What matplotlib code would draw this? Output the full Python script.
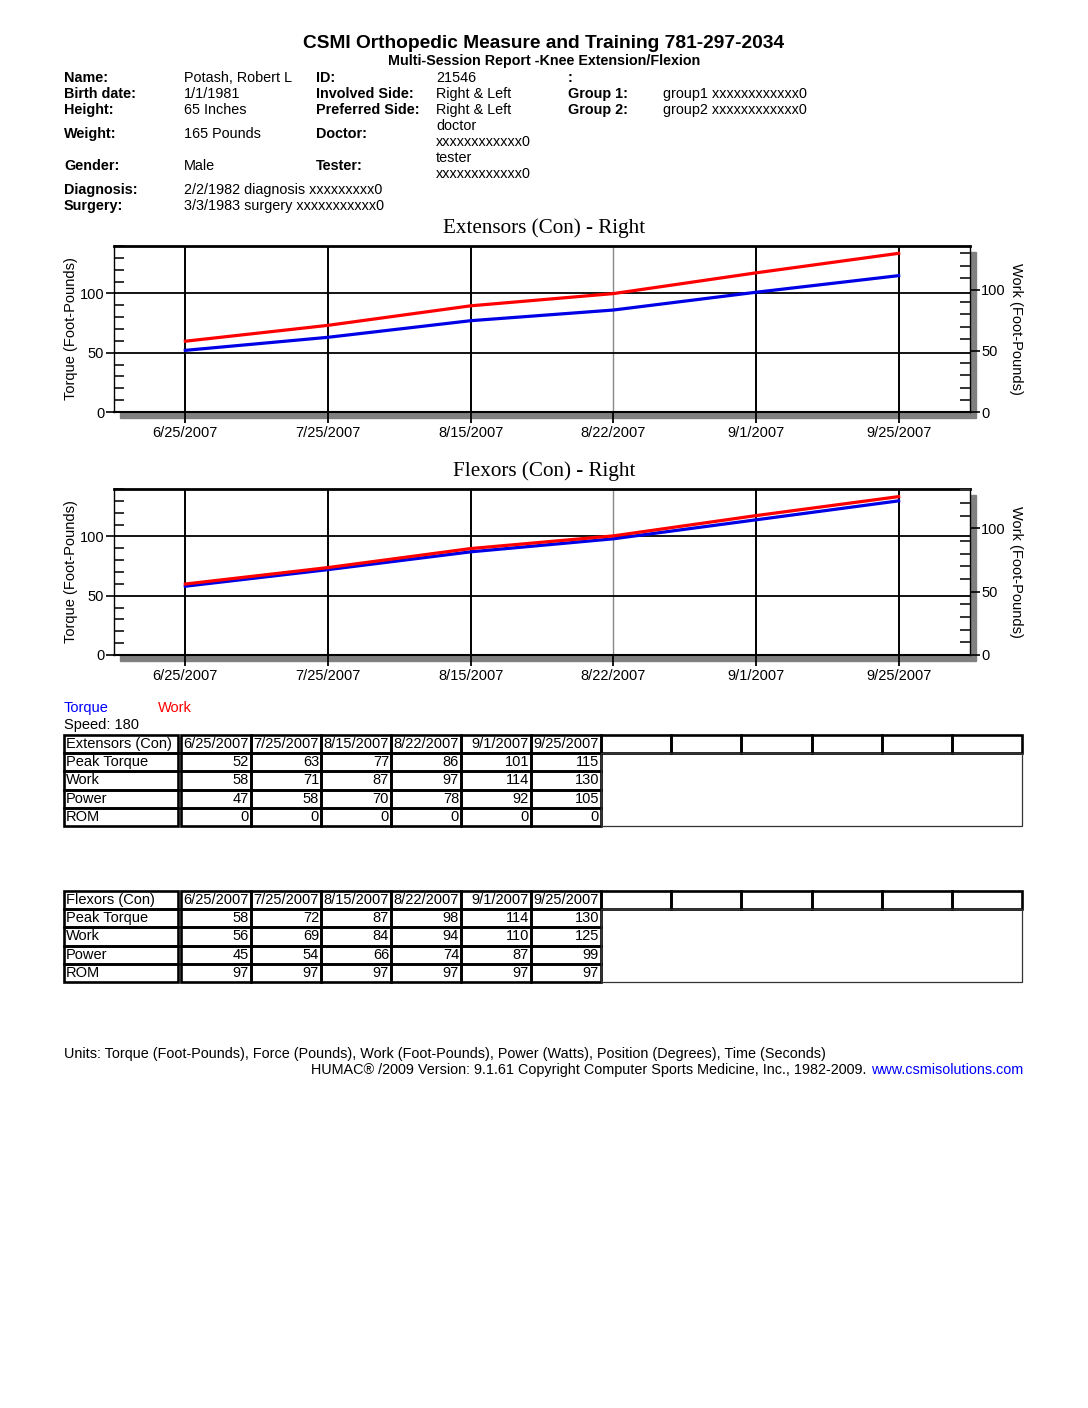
import matplotlib.pyplot as plt
from matplotlib.patches import Rectangle
from matplotlib.ticker import MultipleLocator

plt.rcParams['font.family'] = ['Liberation Sans', 'DejaVu Sans']

# data
dates = ['6/25/2007', '7/25/2007', '8/15/2007', '8/22/2007', '9/1/2007', '9/25/2007']
row_names = ['Peak Torque', 'Work', 'Power', 'ROM']
ext_torque = [52, 63, 77, 86, 101, 115]
ext_work = [58, 71, 87, 97, 114, 130]
ext_power = [47, 58, 70, 78, 92, 105]
ext_rom = [0, 0, 0, 0, 0, 0]
flex_torque = [58, 72, 87, 98, 114, 130]
flex_work = [56, 69, 84, 94, 110, 125]
flex_power = [45, 54, 66, 74, 87, 99]
flex_rom = [97, 97, 97, 97, 97, 97]

info_left = [('Name:', 'Potash, Robert L', 78), ('Birth date:', '1/1/1981', 94),
             ('Height:', '65 Inches', 110), ('Weight:', '165 Pounds', 134),
             ('Gender:', 'Male', 166), ('Diagnosis:', '2/2/1982 diagnosis xxxxxxxxx0', 190),
             ('Surgery:', '3/3/1983 surgery xxxxxxxxxxx0', 206)]
info_mid = [('ID:', '21546', 78), ('Involved Side:', 'Right & Left', 94),
            ('Preferred Side:', 'Right & Left', 110), ('Doctor:', 'doctor\nxxxxxxxxxxxx0', 134),
            ('Tester:', 'tester\nxxxxxxxxxxxx0', 166)]
info_right = [(':', '', 78), ('Group 1:', 'group1 xxxxxxxxxxxx0', 94),
              ('Group 2:', 'group2 xxxxxxxxxxxx0', 110)]

W, H = 1088, 1408
fig = plt.figure(figsize=(W / 100, H / 100), dpi=100)
page = fig.add_axes([0, 0, 1, 1], zorder=0)
page.set_xlim(0, W)
page.set_ylim(H, 0)
page.axis('off')

FS = 10.4

# header
page.text(544, 43, 'CSMI Orthopedic Measure and Training 781-297-2034', ha='center', va='center',
          fontsize=13.8, fontweight='bold')
page.text(544, 61, 'Multi-Session Report -Knee Extension/Flexion', ha='center', va='center',
          fontsize=10.3, fontweight='bold')
for (lab, val, y), xl, xv in [(r, 64, 184) for r in info_left] + [(r, 316, 436) for r in info_mid] + \
        [(r, 568, 663) for r in info_right]:
    page.text(xl, y, lab, ha='left', va='center', fontsize=FS, fontweight='bold')
    if '\n' in val:
        a, b = val.split('\n')
        page.text(xv, y - 8, a, ha='left', va='center', fontsize=FS)
        page.text(xv, y + 8, b, ha='left', va='center', fontsize=FS)
    else:
        page.text(xv, y, val, ha='left', va='center', fontsize=FS)


def chart(top, bottom, title, torque, work, wmax):
    left, right = 114, 970
    ax = fig.add_axes([left / W, 1 - bottom / H, (right - left) / W, (bottom - top) / H], zorder=2)
    page.add_patch(Rectangle((left + 6, top + 6), right - left, bottom - top, color='#808080', zorder=1))
    x = range(len(dates))
    for i in x:
        if i == 3:
            ax.axvline(i, color='#888888', lw=1.0, zorder=1)
        else:
            ax.axvline(i, color='black', lw=1.4, zorder=1)
    for v in (50, 100):
        ax.axhline(v, color='black', lw=1.3, zorder=1)
    ax.plot(x, torque, color='#0000e6', lw=2.3, zorder=3)
    ax.set_xlim(-0.5, 5.5)
    ax.set_ylim(0, 140)
    ax.set_xticks(list(x))
    ax.set_xticklabels(dates, fontsize=10.5)
    ax.set_yticks([0, 50, 100])
    ax.set_yticklabels(['0', '50', '100'], fontsize=10.5)
    ax.yaxis.set_minor_locator(MultipleLocator(10))
    ax.tick_params(axis='x', direction='out', length=8, width=1.3, pad=2)
    ax.tick_params(axis='y', which='major', direction='out', length=6, width=1.2, pad=1)
    ax.tick_params(axis='y', which='minor', direction='in', length=7, width=1.4, color='#333333')
    ax.spines['top'].set_linewidth(2)
    ax.spines['bottom'].set_linewidth(1.5)
    ax.spines['left'].set_linewidth(1)
    ax.spines['right'].set_linewidth(1)

    ax2 = ax.twinx()
    ax2.plot(x, work, color='#ff0000', lw=2.3, zorder=3)
    ax2.set_ylim(0, wmax)
    ax2.set_yticks([0, 50, 100])
    ax2.set_yticklabels(['0', '50', '100'], fontsize=10.5)
    ax2.yaxis.set_minor_locator(MultipleLocator(10))
    ax2.tick_params(axis='y', which='major', direction='out', length=7, width=1.2, pad=1)
    ax2.tick_params(axis='y', which='minor', direction='in', length=7, width=1.4, color='#333333')
    for s in ax2.spines.values():
        s.set_visible(False)

    mid = (top + bottom) / 2
    page.text(544, top - 18, title, ha='center', va='center', fontsize=15.2, family='Liberation Serif')
    page.text(71, mid, 'Torque (Foot-Pounds)', rotation=90, ha='center', va='center', fontsize=10.5)
    page.text(1016, mid, 'Work (Foot-Pounds)', rotation=270, ha='center', va='center', fontsize=10.5)


chart(246, 412, 'Extensors (Con) - Right', ext_torque, ext_work, 136)
chart(489, 655, 'Flexors (Con) - Right', flex_torque, flex_work, 131)

# legend
page.text(64, 708, 'Torque', color='#0000ff', ha='left', va='center', fontsize=10.5)
page.text(158, 708, 'Work', color='#ff0000', ha='left', va='center', fontsize=10.5)
page.text(64, 725, 'Speed: 180', ha='left', va='center', fontsize=10.5)


def table(top, head, rows):
    rh = 18.2
    lw = 1.9
    for r in range(5):
        y0 = top + r * rh
        name = head if r == 0 else row_names[r - 1]
        page.add_patch(Rectangle((64, y0), 114, rh, fill=False, ec='black', lw=lw))
        page.text(66, y0 + rh / 2, name, ha='left', va='center', fontsize=10.5)
        for j in range(len(dates)):
            x0 = 181 + j * 70
            page.add_patch(Rectangle((x0, y0), 70, rh, fill=False, ec='black', lw=lw))
            txt = dates[j] if r == 0 else str(rows[r - 1][j])
            page.text(x0 + 68, y0 + rh / 2, txt, ha='right', va='center', fontsize=10.5)
    for k in range(6):
        page.add_patch(Rectangle((601 + k * 70.2, top), 70.2, rh, fill=False, ec='black', lw=lw))
    page.add_patch(Rectangle((601, top + rh), 1022 - 601, 4 * rh, fill=False, ec='#333333', lw=0.9))


table(735, 'Extensors (Con)', [ext_torque, ext_work, ext_power, ext_rom])
table(891, 'Flexors (Con)', [flex_torque, flex_work, flex_power, flex_rom])

# footer
page.text(64, 1054, 'Units: Torque (Foot-Pounds), Force (Pounds), Work (Foot-Pounds), Power (Watts), '
          'Position (Degrees), Time (Seconds)', ha='left', va='center', fontsize=10.4)
link = page.text(1023, 1070, 'www.csmisolutions.com', color='#0000ff', ha='right', va='center', fontsize=10.4)
page.annotate('HUMAC\u00ae /2009 Version: 9.1.61 Copyright Computer Sports Medicine, Inc., 1982-2009.',
              xy=(0, 0.5), xycoords=link, xytext=(-3, 0), textcoords='offset points',
              ha='right', va='center', fontsize=10.4)

fig.savefig('out.png', dpi=100, facecolor='white')
